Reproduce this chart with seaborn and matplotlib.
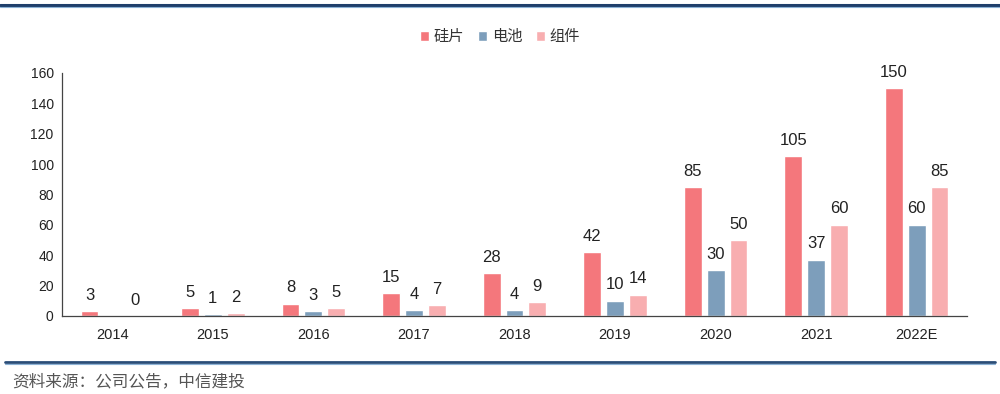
import numpy as np
import pandas as pd
import matplotlib
matplotlib.use('Agg')
import matplotlib.pyplot as plt
import seaborn as sns
from matplotlib.lines import Line2D

# Data
years = ['2014', '2015', '2016', '2017', '2018', '2019', '2020', '2021', '2022E']
wafer = [3, 5, 8, 15, 28, 42, 85, 105, 150]
cell = [np.nan, 1, 3, 4, 4, 10, 30, 37, 60]
module = [0, 2, 5, 7, 9, 14, 50, 60, 85]
series_names = ['硅片', '电池', '组件']
colors = ['#F4777C', '#7D9EBB', '#F8AEB0']

df = pd.DataFrame({
    '年份': years * 3,
    '值': wafer + cell + module,
    '类别': [series_names[0]] * 9 + [series_names[1]] * 9 + [series_names[2]] * 9,
})

sns.set_style('white')
plt.rcParams['font.family'] = ['Liberation Sans', 'Noto Sans CJK SC', 'DejaVu Sans']

fig = plt.figure(figsize=(10, 3.94), dpi=100)
ax = fig.add_axes([0.062, 0.198, 0.905, 0.617])

sns.barplot(data=df, x='年份', y='值', hue='类别', palette=colors,
            width=0.68, gap=0.22, ax=ax, saturation=1)

for cont in ax.containers:
    ax.bar_label(cont, fmt='%.0f', padding=6, fontsize=12, color='#222222')

ax.set_ylim(0, 160)
ax.set_yticks(range(0, 161, 20))
ax.set_xlim(-0.5, len(years) - 0.5)
ax.set_xlabel('')
ax.set_ylabel('')
for s in ['top', 'right']:
    ax.spines[s].set_visible(False)
for s in ['left', 'bottom']:
    ax.spines[s].set_color('#444444')
    ax.spines[s].set_linewidth(0.9)
ax.tick_params(axis='y', which='major', length=3, color='#444444', labelsize=10, pad=3)
ax.tick_params(axis='x', which='major', length=0, labelsize=10.5, pad=9)
ax.set_xticks(np.arange(-0.5, len(years), 1), minor=True)
ax.tick_params(axis='x', which='minor', length=4, color='#444444', direction='out')
for t in ax.get_xticklabels() + ax.get_yticklabels():
    t.set_color('#222222')

leg = ax.legend(loc='center', bbox_to_anchor=(0.5, 0.906), bbox_transform=fig.transFigure,
                ncol=3, frameon=False, fontsize=11, handlelength=0.6, handleheight=0.6,
                handletextpad=0.3, columnspacing=0.9)
for t in leg.get_texts():
    t.set_color('#333333')

# Header and footer rules
fig.add_artist(Line2D([0.0, 1.0], [0.988, 0.988], transform=fig.transFigure,
                      color='#1F3F6B', linewidth=2.2))
fig.add_artist(Line2D([0.0, 1.0], [0.982, 0.982], transform=fig.transFigure,
                      color='#8DB3D6', linewidth=0.8))
fig.add_artist(Line2D([0.005, 0.995], [0.081, 0.081], transform=fig.transFigure,
                      color='#2A4D78', linewidth=2.0))
fig.add_artist(Line2D([0.005, 0.995], [0.076, 0.076], transform=fig.transFigure,
                      color='#8DB3D6', linewidth=0.8))

fig.text(0.012, 0.031, '资料来源：公司公告，中信建投', fontsize=12, color='#555555',
         va='center', ha='left', style='italic')

fig.savefig('out.png', dpi=100, facecolor='white')
